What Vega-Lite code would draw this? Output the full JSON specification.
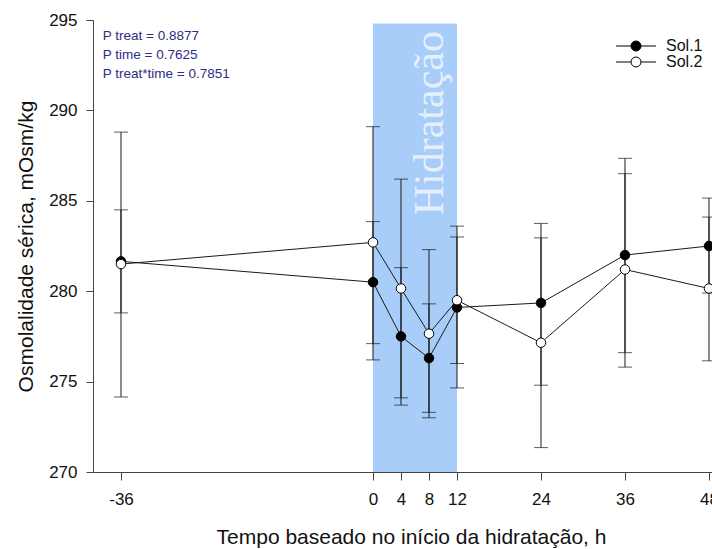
{
  "$schema": "https://vega.github.io/schema/vega-lite/v6.json",
  "width": 619,
  "height": 452,
  "autosize": {"type": "none"},
  "padding": {"left": 93, "top": 20, "right": 0, "bottom": 77},
  "background": "white",
  "config": {
    "view": {"stroke": null},
    "font": "Liberation Sans"
  },
  "datasets": {
    "osm": [
      {"serie": "Sol.1", "t": -36, "media": 281.65, "lo": 278.8, "hi": 284.5},
      {"serie": "Sol.1", "t": 0, "media": 280.5, "lo": 277.1, "hi": 283.85},
      {"serie": "Sol.1", "t": 4, "media": 277.5, "lo": 273.7, "hi": 281.3},
      {"serie": "Sol.1", "t": 8, "media": 276.3, "lo": 273.3, "hi": 279.3},
      {"serie": "Sol.1", "t": 12, "media": 279.1, "lo": 274.65, "hi": 283.6},
      {"serie": "Sol.1", "t": 24, "media": 279.35, "lo": 274.8, "hi": 283.75},
      {"serie": "Sol.1", "t": 36, "media": 282.0, "lo": 276.6, "hi": 287.35},
      {"serie": "Sol.1", "t": 48, "media": 282.5, "lo": 279.9, "hi": 285.15},
      {"serie": "Sol.2", "t": -36, "media": 281.5, "lo": 274.15, "hi": 288.8},
      {"serie": "Sol.2", "t": 0, "media": 282.7, "lo": 276.2, "hi": 289.1},
      {"serie": "Sol.2", "t": 4, "media": 280.15, "lo": 274.1, "hi": 286.2},
      {"serie": "Sol.2", "t": 8, "media": 277.65, "lo": 273.0, "hi": 282.3},
      {"serie": "Sol.2", "t": 12, "media": 279.5, "lo": 276.0, "hi": 283.0},
      {"serie": "Sol.2", "t": 24, "media": 277.15, "lo": 271.35, "hi": 282.95},
      {"serie": "Sol.2", "t": 36, "media": 281.2, "lo": 275.8, "hi": 286.5},
      {"serie": "Sol.2", "t": 48, "media": 280.15, "lo": 276.15, "hi": 284.1}
    ],
    "fase": [
      {"t": 0, "t_fim": 12, "topo": 294.8, "base": 270}
    ]
  },
  "layer": [
    {
      "data": {"name": "fase"},
      "mark": {"type": "rect", "fill": "#a8cdf8"},
      "encoding": {
        "x": {
          "field": "t", "type": "quantitative",
          "scale": {"domain": [-40, 48.43], "nice": false, "zero": false},
          "axis": {
            "values": [-36, 0, 4, 8, 12, 24, 36, 48],
            "labelExpr": "datum.value + ''",
            "title": "Tempo baseado no início da hidratação, h",
            "grid": false,
            "domainColor": "#444444",
            "tickColor": "#444444",
            "tickSize": 8,
            "labelFontSize": 17,
            "labelPadding": 11,
            "labelColor": "#111111",
            "labelFont": "Liberation Sans",
            "labelFlush": false,
            "labelOverlap": false,
            "titleFont": "Liberation Sans",
            "titleFontSize": 21,
            "titleFontWeight": "normal",
            "titleColor": "#111111",
            "titlePadding": 19,
            "titleX": 318
          }
        },
        "x2": {"field": "t_fim"},
        "y": {
          "field": "topo", "type": "quantitative",
          "scale": {"domain": [270, 295], "nice": false, "zero": false},
          "axis": {
            "values": [270, 275, 280, 285, 290, 295],
            "format": "d",
            "title": "Osmolalidade sérica, mOsm/kg",
            "grid": false,
            "domainColor": "#444444",
            "tickColor": "#444444",
            "tickSize": 7,
            "labelFontSize": 17,
            "labelPadding": 9,
            "labelColor": "#111111",
            "labelFont": "Liberation Sans",
            "labelOverlap": false,
            "titleFont": "Liberation Sans",
            "titleFontSize": 21,
            "titleFontWeight": "normal",
            "titleColor": "#111111",
            "titlePadding": 12
          }
        },
        "y2": {"field": "base"}
      }
    },
    {
      "data": {"values": [{"rotulo": "Hidratação"}]},
      "mark": {
        "type": "text",
        "angle": 270,
        "align": "left",
        "baseline": "alphabetic",
        "font": "Liberation Serif",
        "fontSize": 42,
        "fill": "#e6effc"
      },
      "encoding": {
        "x": {"datum": 10, "type": "quantitative"},
        "y": {"datum": 284.2, "type": "quantitative"},
        "text": {"field": "rotulo"}
      }
    },
    {
      "data": {"values": [{}]},
      "mark": {
        "type": "text",
        "text": ["P treat = 0.8877", "P time = 0.7625", "P treat*time = 0.7851"],
        "lineHeight": 19,
        "align": "left",
        "baseline": "top",
        "font": "Liberation Sans",
        "fontSize": 13.5,
        "fill": "#2d2d82"
      },
      "encoding": {
        "x": {"datum": -38.6, "type": "quantitative"},
        "y": {"datum": 294.5, "type": "quantitative"}
      }
    },
    {
      "data": {"name": "osm"},
      "mark": {"type": "rule", "stroke": "#1a1a1a", "strokeWidth": 1},
      "encoding": {
        "x": {"field": "t", "type": "quantitative"},
        "y": {"field": "lo", "type": "quantitative"},
        "y2": {"field": "hi"},
        "detail": {"field": "serie"}
      }
    },
    {
      "data": {"name": "osm"},
      "mark": {"type": "tick", "orient": "horizontal", "size": 14, "thickness": 1, "color": "#1a1a1a"},
      "encoding": {
        "x": {"field": "t", "type": "quantitative"},
        "y": {"field": "lo", "type": "quantitative"}
      }
    },
    {
      "data": {"name": "osm"},
      "mark": {"type": "tick", "orient": "horizontal", "size": 14, "thickness": 1, "color": "#1a1a1a"},
      "encoding": {
        "x": {"field": "t", "type": "quantitative"},
        "y": {"field": "hi", "type": "quantitative"}
      }
    },
    {
      "data": {"name": "osm"},
      "mark": {"type": "line", "stroke": "#1a1a1a", "strokeWidth": 1},
      "encoding": {
        "x": {"field": "t", "type": "quantitative"},
        "y": {"field": "media", "type": "quantitative"},
        "detail": {"field": "serie"}
      }
    },
    {
      "data": {"name": "osm"},
      "mark": {"type": "point", "shape": "circle", "filled": true, "size": 90, "stroke": "#000000", "strokeWidth": 1, "opacity": 1},
      "encoding": {
        "x": {"field": "t", "type": "quantitative"},
        "y": {"field": "media", "type": "quantitative"},
        "fill": {
          "field": "serie",
          "type": "nominal",
          "scale": {"domain": ["Sol.1", "Sol.2"], "range": ["#000000", "#ffffff"]},
          "legend": {
            "title": null,
            "orient": "none",
            "legendX": 520,
            "legendY": 18,
            "symbolType": "M-4,0H-1M1,0H4M-1,0A1,1 0 1,1 1,0A1,1 0 1,1 -1,0Z",
            "symbolSize": 100,
            "symbolStrokeColor": "#000000",
            "symbolStrokeWidth": 1,
            "symbolOffset": 15,
            "labelOffset": 22,
            "labelFont": "Liberation Sans",
            "labelFontSize": 16,
            "labelColor": "#111111",
            "rowPadding": -1
          }
        }
      }
    }
  ]
}
